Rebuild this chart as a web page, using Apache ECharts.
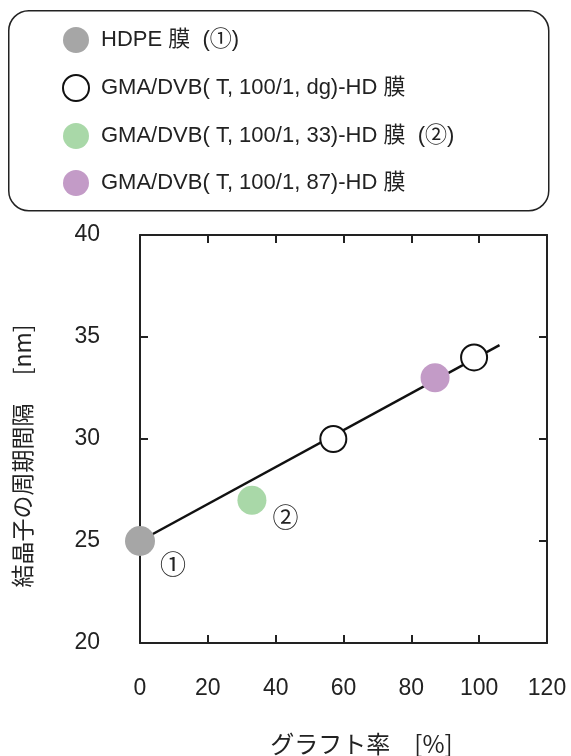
<!DOCTYPE html>
<html>
<head>
<meta charset="utf-8">
<script src="https://cdn.jsdelivr.net/npm/echarts@6/dist/echarts.min.js"></script>
<style>
  html, body { margin: 0; padding: 0; background: #fff; }
  #main { width: 571px; height: 756px; }
</style>
</head>
<body>
<div id="main"></div>
<script>
const FONT = "'Liberation Sans', Arial, 'Noto Sans CJK JP', sans-serif";
const CJK = "'Noto Sans CJK JP', sans-serif";

// series names (legend order)
const seriesNames = [
  "HDPE 膜  (①)",
  "GMA/DVB( T, 100/1, dg)-HD 膜",
  "GMA/DVB( T, 100/1, 33)-HD 膜  (②)",
  "GMA/DVB( T, 100/1, 87)-HD 膜"
];
// [graft %, period nm]
const hdpeData = [[0, 25]];
const dgData = [[57, 30], [98.5, 34]];
const g33Data = [[33, 27]];
const g87Data = [[87, 33]];
// fitted line ends
const fitLine = [[0, 25], [106, 34.6]];

const xTicks = { min: 0, max: 120, interval: 20 };
const yTicks = { min: 20, max: 40, interval: 5 };

var myChart = echarts.init(document.getElementById("main"));

function axisLine() {
  return { show: true, onZero: false, lineStyle: { color: "#222", width: 2 } };
}
function axisTick() {
  return { show: true, inside: true, length: 8, lineStyle: { color: "#222", width: 2 } };
}

myChart.setOption({
  animation: false,
  textStyle: { fontFamily: FONT },
  graphic: [{
    type: "rect",
    left: 8, top: 10,
    shape: { width: 540, height: 200, r: 20 },
    style: { fill: "#fff", stroke: "#222", lineWidth: 1.5 },
    z: -1
  }],
  legend: {
    orient: "vertical",
    left: 57, top: 22,
    itemWidth: 26, itemHeight: 26,
    itemGap: 21,
    icon: "circle",
    data: seriesNames,
    textStyle: { fontSize: 22, color: "#222", fontFamily: FONT, padding: [0, 0, 0, 7] }
  },
  grid: { left: 140, right: 24, top: 235, bottom: 113, outerBoundsMode: "none" },
  xAxis: [{
    type: "value",
    min: xTicks.min, max: xTicks.max, interval: xTicks.interval,
    name: "グラフト率　[%]",
    nameLocation: "middle",
    nameGap: 89,
    nameTextStyle: { fontSize: 24, color: "#222", fontFamily: CJK, padding: [0, 0, 0, 36] },
    axisLine: axisLine(), axisTick: axisTick(),
    axisLabel: { fontSize: 23, color: "#222", margin: 34 },
    splitLine: { show: false }
  }, {
    type: "value", position: "top",
    min: xTicks.min, max: xTicks.max, interval: xTicks.interval,
    axisLine: axisLine(), axisTick: axisTick(),
    axisLabel: { show: false }, splitLine: { show: false }
  }],
  yAxis: [{
    type: "value",
    min: yTicks.min, max: yTicks.max, interval: yTicks.interval,
    name: "結晶子の周期間隔　 [nm]",
    nameLocation: "middle",
    nameGap: 106,
    nameTextStyle: { fontSize: 23, color: "#222", fontFamily: CJK, padding: [0, 34, 0, 0] },
    axisLine: axisLine(), axisTick: axisTick(),
    axisLabel: { fontSize: 23, color: "#222", margin: 40 },
    splitLine: { show: false }
  }, {
    type: "value", position: "right",
    min: yTicks.min, max: yTicks.max, interval: yTicks.interval,
    axisLine: axisLine(), axisTick: axisTick(),
    axisLabel: { show: false }, splitLine: { show: false }
  }],
  series: [
    {
      name: "fit", type: "line", data: fitLine,
      showSymbol: false, silent: true, z: 1,
      lineStyle: { color: "#111", width: 2.5 }
    },
    {
      name: seriesNames[0], type: "scatter", data: hdpeData, symbolSize: 30, z: 3,
      itemStyle: { color: "#a6a6a6", opacity: 1 },
      label: { show: true, formatter: "①", position: "right", offset: [0, 26], fontSize: 26, color: "#222" }
    },
    {
      name: seriesNames[1], type: "scatter", data: dgData, symbolSize: 26, z: 3,
      itemStyle: { color: "#fff", borderColor: "#111", borderWidth: 2, opacity: 1 }
    },
    {
      name: seriesNames[2], type: "scatter", data: g33Data, symbolSize: 29, z: 3,
      itemStyle: { color: "#a9d8a8", opacity: 1 },
      label: { show: true, formatter: "②", position: "right", offset: [1, 20], fontSize: 26, color: "#222" }
    },
    {
      name: seriesNames[3], type: "scatter", data: g87Data, symbolSize: 29, z: 3,
      itemStyle: { color: "#c39bc7", opacity: 1 }
    }
  ]
});
</script>
</body>
</html>
